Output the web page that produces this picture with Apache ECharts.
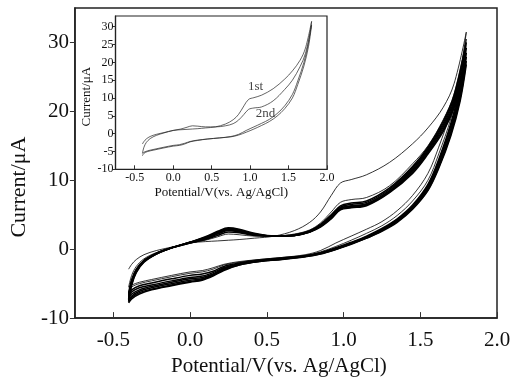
<!DOCTYPE html>
<html>
<head>
<meta charset="utf-8">
<script src="https://cdn.jsdelivr.net/npm/echarts@6/dist/echarts.min.js"></script>
<style>html,body{margin:0;padding:0;background:#fff}#c{width:530px;height:382px}</style>
</head>
<body>
<div id="c"></div>
<script>
// Potential grids (V vs Ag/AgCl)
const potFwd = [-0.40,-0.38,-0.35,-0.30,-0.22,-0.12,0.00,0.10,0.18,0.25,0.32,0.42,0.55,0.68,0.78,0.85,0.92,0.98,1.05,1.15,1.30,1.45,1.55,1.65,1.72,1.80];
const potRev = [1.80,1.76,1.70,1.62,1.55,1.45,1.35,1.25,1.15,1.05,0.95,0.85,0.75,0.60,0.45,0.32,0.22,0.15,0.08,0.00,-0.12,-0.25,-0.33,-0.38,-0.40];

// Currents (µA)
const cycle1Fwd = [-2.9,-2.2,-1.5,-0.8,-0.2,0.3,0.9,1.1,1.2,1.3,1.4,1.6,1.9,2.7,3.9,5.4,7.8,9.6,10.1,10.8,12.6,15.3,17.6,20.6,24.0,31.5];
const cycle1Rev = [31.5,25.5,20.0,14.8,11.0,7.8,5.6,4.0,2.9,1.9,0.9,-0.2,-0.8,-1.2,-1.5,-1.8,-2.2,-2.7,-3.1,-3.3,-3.8,-4.4,-4.8,-5.2,-5.5];
const cycle2Fwd = [-5.5,-3.8,-2.5,-1.4,-0.5,0.2,0.9,1.3,1.8,2.2,2.1,1.9,1.9,2.2,2.8,3.8,5.4,6.8,7.2,7.5,9.2,12.4,15.0,18.8,22.5,30.5];
const cycle2Rev = [30.5,24.5,19.0,13.8,10.0,7.0,4.9,3.4,2.3,1.3,0.4,-0.4,-0.9,-1.2,-1.5,-1.9,-2.3,-2.9,-3.3,-3.5,-4.0,-4.6,-5.0,-5.5,-6.2];
const cycle3Fwd = [-6.4,-4.4,-2.9,-1.6,-0.6,0.2,0.9,1.4,2.0,2.5,2.4,2.0,1.9,2.1,2.7,3.6,5.0,6.3,6.7,7.0,8.9,12.0,14.8,18.6,22.3,30.0];
const cycle3Rev = [30.0,23.8,18.3,13.0,9.4,6.4,4.4,3.0,1.9,1.0,0.2,-0.5,-0.95,-1.3,-1.6,-2.0,-2.5,-3.2,-3.6,-3.8,-4.3,-4.9,-5.3,-5.9,-6.6];
const cycle6Fwd = [-6.7,-4.6,-3.0,-1.7,-0.6,0.2,0.9,1.5,2.2,2.7,2.5,2.1,1.9,2.0,2.6,3.5,4.8,6.1,6.5,6.8,8.7,11.8,14.6,18.3,21.9,29.2];
const cycle6Rev = [29.2,23.2,17.9,12.7,9.2,6.2,4.3,2.9,1.8,0.9,0.1,-0.6,-1.0,-1.35,-1.7,-2.1,-2.7,-3.4,-3.9,-4.1,-4.6,-5.2,-5.6,-6.2,-6.9];
const cycle9Fwd = [-7.0,-4.8,-3.1,-1.7,-0.6,0.2,1.0,1.6,2.3,2.8,2.6,2.1,1.9,2.0,2.6,3.4,4.7,6.0,6.3,6.6,8.5,11.6,14.4,18.0,21.5,28.5];
const cycle9Rev = [28.5,22.7,17.5,12.4,9.0,6.1,4.2,2.8,1.7,0.9,0.1,-0.6,-1.0,-1.4,-1.7,-2.2,-2.8,-3.6,-4.1,-4.3,-4.8,-5.4,-5.9,-6.5,-7.2];
const cycle12Fwd = [-7.2,-5.0,-3.2,-1.8,-0.7,0.2,1.0,1.7,2.4,2.9,2.7,2.2,1.9,2.0,2.5,3.3,4.6,5.9,6.2,6.5,8.4,11.4,14.2,17.7,21.1,27.9];
const cycle12Rev = [27.9,22.3,17.1,12.1,8.8,6.0,4.1,2.7,1.7,0.8,0.0,-0.6,-1.05,-1.4,-1.75,-2.2,-2.9,-3.7,-4.3,-4.5,-5.0,-5.6,-6.1,-6.8,-7.4];
const cycle16Fwd = [-7.4,-5.1,-3.3,-1.8,-0.7,0.2,1.0,1.7,2.5,3.0,2.8,2.2,1.9,2.0,2.5,3.3,4.5,5.8,6.1,6.4,8.3,11.2,14.0,17.4,20.8,27.3];
const cycle16Rev = [27.3,21.9,16.8,11.9,8.6,5.9,4.0,2.7,1.6,0.8,0.0,-0.65,-1.05,-1.45,-1.8,-2.3,-3.0,-3.8,-4.4,-4.7,-5.2,-5.8,-6.3,-7.0,-7.6];
const cycle20Fwd = [-7.6,-5.2,-3.4,-1.9,-0.7,0.2,1.0,1.8,2.6,3.1,2.9,2.3,1.9,2.0,2.5,3.2,4.4,5.7,6.0,6.3,8.2,11.0,13.8,17.1,20.5,26.8];
const cycle20Rev = [26.8,21.5,16.5,11.7,8.5,5.8,3.9,2.6,1.6,0.7,-0.05,-0.7,-1.1,-1.5,-1.8,-2.3,-3.1,-3.9,-4.5,-4.8,-5.3,-5.9,-6.5,-7.2,-7.8];

// Tick labels
const xTicks = [-0.5, 0.0, 0.5, 1.0, 1.5, 2.0];
const yTicksMain = [-10, 0, 10, 20, 30];
const yTicksInset = [-10, -5, 0, 5, 10, 15, 20, 25, 30];
const insetLabels = ['1st', '2nd'];

const FONT = 'Liberation Serif';

function loop(fwd, rev) {
  const d = [];
  potFwd.forEach((p, i) => d.push([p, fwd[i]]));
  potRev.forEach((p, i) => { if (i > 0) d.push([p, rev[i]]); });
  return d;
}

const bandCycles = [
  [cycle3Fwd, cycle3Rev], [cycle6Fwd, cycle6Rev], [cycle9Fwd, cycle9Rev],
  [cycle12Fwd, cycle12Rev], [cycle16Fwd, cycle16Rev], [cycle20Fwd, cycle20Rev]
];

const series = [];
function addLine(data, gi, width, color) {
  series.push({
    type: 'line', xAxisIndex: gi, yAxisIndex: gi, data: data,
    showSymbol: false, smooth: 0.35, silent: true, z: gi ? 20 : 1,
    lineStyle: { color: color || '#000', width: width }
  });
}
addLine(loop(cycle1Fwd, cycle1Rev), 0, 0.8);
addLine(loop(cycle2Fwd, cycle2Rev), 0, 0.8);
bandCycles.forEach(c => addLine(loop(c[0], c[1]), 0, 1.5));

addLine(loop(cycle1Fwd, cycle1Rev), 1, 0.7, '#222');
addLine(loop(cycle2Fwd, cycle2Rev), 1, 0.7, '#222');

series.push({
  type: 'scatter', xAxisIndex: 1, yAxisIndex: 1, symbolSize: 0, silent: true, z: 21,
  data: [[1.07, 13.3, insetLabels[0]], [1.20, 5.7, insetLabels[1]]],
  label: { show: true, position: 'inside', formatter: p => p.data[2],
           fontFamily: FONT, fontSize: 13, color: '#111' }
});

function xAxis(gi, min, max, fs, nameFs, gap, nameGap, namePad) {
  return {
    type: 'value', gridIndex: gi, min: min, max: max, z: gi ? 22 : 0,
    name: 'Potential/V(vs. Ag/AgCl)', nameLocation: 'middle', nameGap: nameGap,
    nameTextStyle: { fontFamily: FONT, fontSize: nameFs, color: '#111', padding: namePad },
    axisLine: { show: true, onZero: false, lineStyle: { color: '#222', width: gi ? 1.2 : 1.5 } },
    axisTick: { show: true, inside: true, length: gi ? 4 : 6, customValues: xTicks,
                lineStyle: { color: '#333', width: 1 } },
    axisLabel: { customValues: xTicks, fontFamily: FONT, fontSize: fs, color: '#111', margin: gap,
                 formatter: v => v.toFixed(1) },
    splitLine: { show: false }
  };
}
function yAxis(gi, min, max, ticks, fs, nameFs, gap, nameGap, namePad) {
  return {
    type: 'value', gridIndex: gi, min: min, max: max, z: gi ? 22 : 0,
    name: 'Current/μA', nameLocation: 'middle', nameGap: nameGap,
    nameTextStyle: { fontFamily: FONT, fontSize: nameFs, color: '#111', padding: namePad },
    axisLine: { show: true, onZero: false, lineStyle: { color: '#222', width: gi ? 1.2 : 1.5 } },
    axisTick: { show: true, inside: false, length: gi ? 3 : 5, customValues: ticks,
                lineStyle: { color: '#333', width: 1 } },
    axisLabel: { customValues: ticks, fontFamily: FONT, fontSize: fs, color: '#111', margin: gap },
    splitLine: { show: false }
  };
}

const chart = echarts.init(document.getElementById('c'), null, { renderer: 'canvas' });
chart.setOption({
  animation: false,
  backgroundColor: '#fff',
  grid: [
    { left: 66, top: 8, width: 431, height: 323, show: true, borderColor: '#222', borderWidth: 1.5, z: 0 },
    { left: 115.5, top: 16, width: 211.5, height: 153.3, show: true, borderColor: '#222', borderWidth: 1.2, backgroundColor: '#fff', z: 10 }
  ],
  xAxis: [ xAxis(0, -0.75, 2.0, 21, 21, 12, 37, [0, 14, 0, 0]), xAxis(1, -0.75, 2.0, 12, 13, 3, 17, 0) ],
  yAxis: [ yAxis(0, -10, 35, yTicksMain, 21, 22, 6, 32, [0, 48, 0, 0]), yAxis(1, -10, 33, yTicksInset, 12, 13, 2, 22, [0, 8, 0, 0]) ],
  series: series
});
</script>
</body>
</html>
